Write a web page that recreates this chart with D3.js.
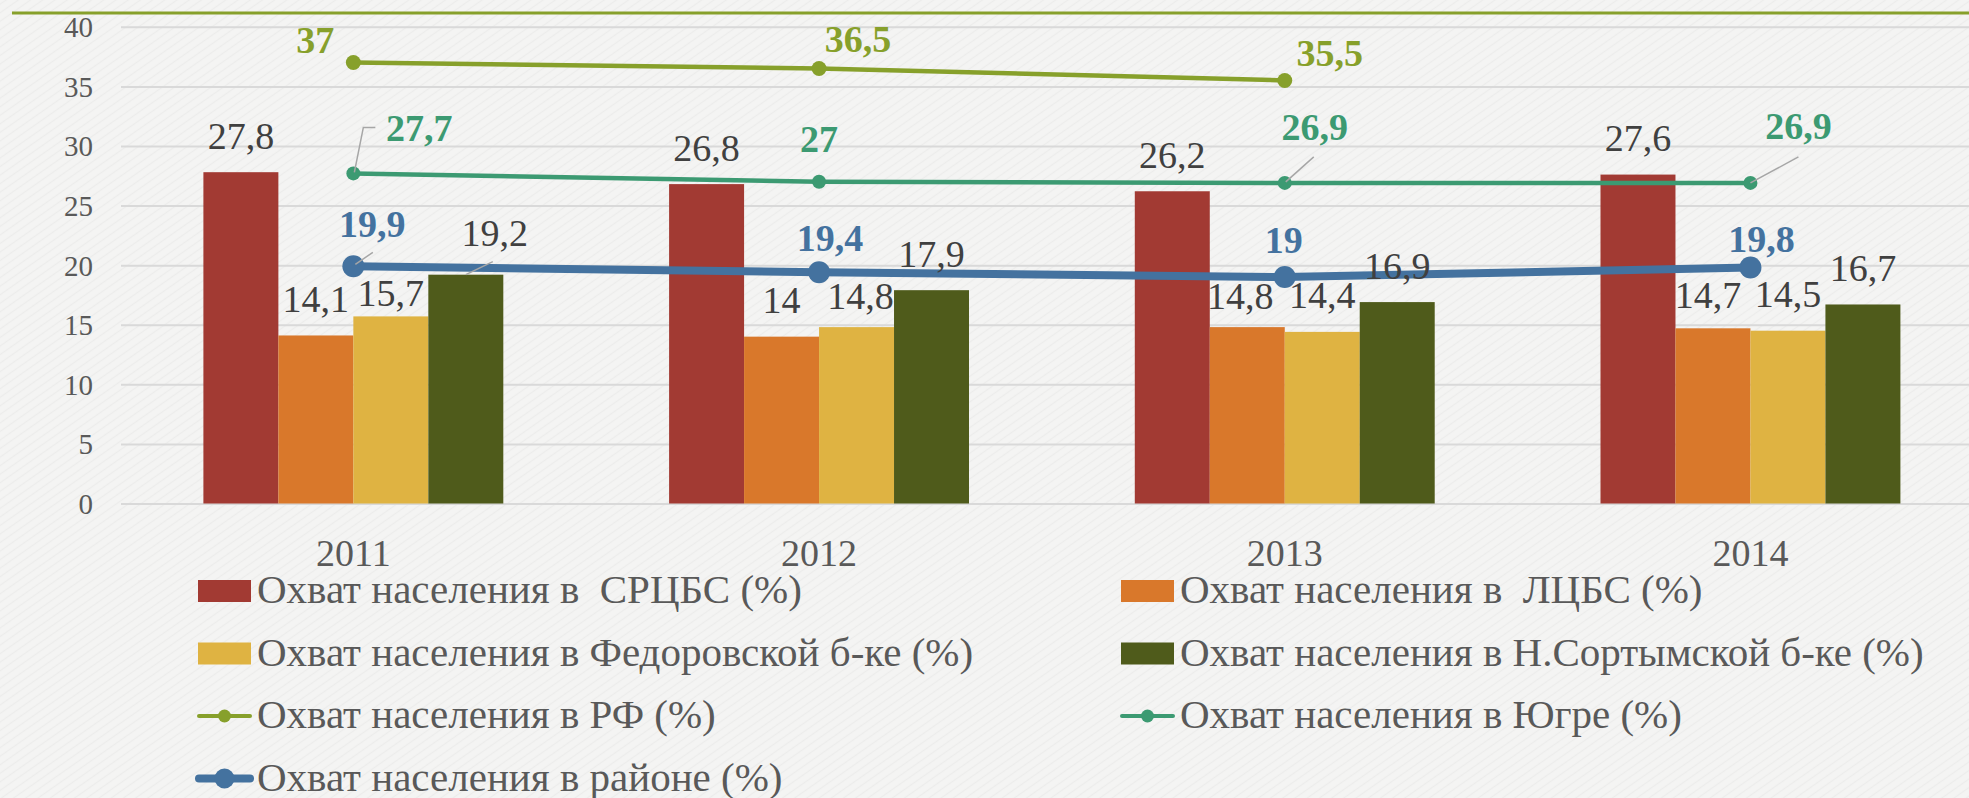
<!DOCTYPE html>
<html>
<head>
<meta charset="utf-8">
<script src="https://cdn.jsdelivr.net/npm/d3@7"></script>
<style>
    html, body { margin: 0; padding: 0; background: #f4f4f3; }
    svg { display: block; }
</style>
</head>
<body>
<div id="chart"></div>
<script>
(function drawCoverage (window, d3) {
    "use strict";

    // ---- data ----
    var years = ["2011", "2012", "2013", "2014"];
    var yTicks = [0, 5, 10, 15, 20, 25, 30, 35, 40];

    var barNames = [
        "Охват населения в  СРЦБС (%)",
        "Охват населения в  ЛЦБС (%)",
        "Охват населения в Федоровской б-ке (%)",
        "Охват населения в Н.Сортымской б-ке (%)"
    ];
    var srcbs = [27.8, 26.8, 26.2, 27.6];
    var lcbs = [14.1, 14, 14.8, 14.7];
    var fedorovsk = [15.7, 14.8, 14.4, 14.5];
    var nsortym = [19.2, 17.9, 16.9, 16.7];

    var lineNames = [
        "Охват населения в РФ (%)",
        "Охват населения в Югре (%)",
        "Охват населения в районе (%)"
    ];
    var rf = [37, 36.5, 35.5, null];
    var yugra = [27.7, 27, 26.9, 26.9];
    var rayon = [19.9, 19.4, 19, 19.8];

    // ---- styles ----
    var width = 1969,
        height = 798,
        FONT = "'Liberation Serif', 'DejaVu Serif', serif",
        barColors = ["#a23a33", "#d9782b", "#dfb342", "#4f5b1b"],
        lineColors = ["#87a02b", "#3c9a72", "#44729f"],
        lineWidths = [4.5, 4.5, 8],
        markerR = [7.5, 7, 11],
        labelGap = 23.5,
        leaderColor = "#a6a6a6";

    // hand-moved labels in the original (dx/dy in px, relative to default spot)
    var barLabelNudge = {
        "2-0": { dx: 0, dy: 13.5 },
        "3-0": { dx: 29, dy: -5.5, leader: [[0, 0], [27, -13]] },
        "2-1": { dx: 4, dy: 5.5 },
        "1-2": { dx: -7, dy: 5.5 },
        "1-3": { dx: -5, dy: 3.5 }
    };
    // line labels: [dx of text centre, dy of baseline] from the marker
    var lineLabelPos = [
        [[-38, -9.5], [39, -17], [45, -14], null],
        [[66, -32], [0, -30], [30, -42.5], [48, -43.5]],
        [[19, -29], [11, -21.5], [-1, -24], [11, -16]]
    ];
    var lineLeaders = [
        [null, null, null, null],
        [[[1, -1], [10, -46], [22, -46]], null, [[1, -1], [29, -26]], [[0, 0], [48, -26]]],
        [[[2, -2], [19.5, -14]], null, null, null]
    ];

    var barData = [srcbs, lcbs, fedorovsk, nsortym],
        lineData = [rf, yugra, rayon];

    function fmt (v) {
        return String(v).replace(".", ",");
    }

    var svg = d3.select("#chart").append("svg")
        .attr("width", width)
        .attr("height", height);

    // faint paper texture
    var pat = svg.append("defs").append("pattern")
        .attr("id", "paper")
        .attr("width", 7).attr("height", 7)
        .attr("patternUnits", "userSpaceOnUse")
        .attr("patternTransform", "rotate(-35)");
    pat.append("rect").attr("width", 7).attr("height", 7).attr("fill", "#f4f4f3");
    pat.append("line")
        .attr("x1", 0).attr("x2", 7).attr("y1", 3.5).attr("y2", 3.5)
        .attr("stroke", "#ececeb").attr("stroke-width", 1.2);

    svg.append("rect")
        .attr("width", width)
        .attr("height", height)
        .attr("fill", "url(#paper)");

    // thin rule across the top
    svg.append("line")
        .attr("x1", 12).attr("x2", width)
        .attr("y1", 13).attr("y2", 13)
        .attr("stroke", "#87a02b")
        .attr("stroke-width", 3);

    var x = d3.scaleBand()
        .domain(years)
        .range([120.5, 1983.3])
        .paddingInner(0.356)
        .paddingOuter(0.178);

    var xSub = d3.scaleBand()
        .domain(d3.range(barData.length))
        .range([0, x.bandwidth()]);

    var y = d3.scaleLinear()
        .domain([0, 40])
        .range([503.5, 26.8]);

    function cx (i) {
        return x(years[i]) + x.bandwidth() / 2;
    }

    // ---- y axis + grid ----
    var yAxis = d3.axisLeft(y)
        .tickValues(yTicks)
        .tickSize(-(width - 121))
        .tickPadding(28);

    var gAxis = svg.append("g")
        .attr("transform", "translate(121,0)")
        .call(yAxis);
    gAxis.select(".domain").remove();
    gAxis.selectAll(".tick line")
        .attr("stroke", "#d9d9d9")
        .attr("stroke-width", 2);
    gAxis.selectAll(".tick text")
        .attr("fill", "#595959")
        .attr("dy", "0.34em")
        .style("font-family", FONT)
        .style("font-size", "29px");

    // ---- x axis labels ----
    var xAxis = d3.axisBottom(x).tickSize(0).tickPadding(0);
    var gx = svg.append("g")
        .attr("transform", "translate(0,565.5)")
        .call(xAxis);
    gx.select(".domain").remove();
    gx.selectAll(".tick text")
        .attr("fill", "#595959")
        .attr("dy", 0)
        .attr("y", 0)
        .style("font-family", FONT)
        .style("font-size", "38px");

    // ---- bars ----
    barData.forEach(function drawSeries (vals, s) {
        svg.append("g").selectAll("rect")
            .data(vals)
            .join("rect")
            .attr("x", function (d, i) { return x(years[i]) + xSub(s); })
            .attr("width", xSub.bandwidth())
            .attr("y", function (d) { return y(d); })
            .attr("height", function (d) { return y(0) - y(d); })
            .attr("fill", barColors[s]);
    });

    // ---- lines ----
    lineData.forEach(function drawLine (vals, s) {
        var pts = vals.map(function (v, i) { return v === null ? null : [cx(i), y(v)]; })
            .filter(function (p) { return p; });
        svg.append("path")
            .attr("d", d3.line()(pts))
            .attr("fill", "none")
            .attr("stroke", lineColors[s])
            .attr("stroke-width", lineWidths[s])
            .attr("stroke-linejoin", "round");
        svg.append("g").selectAll("circle")
            .data(pts)
            .join("circle")
            .attr("cx", function (p) { return p[0]; })
            .attr("cy", function (p) { return p[1]; })
            .attr("r", markerR[s])
            .attr("fill", lineColors[s]);
    });

    function leader (pts) {
        svg.append("polyline")
            .attr("points", pts.join(" "))
            .attr("fill", "none")
            .attr("stroke", leaderColor)
            .attr("stroke-width", 1.5);
    }

    // ---- bar value labels ----
    barData.forEach(function labelSeries (vals, s) {
        vals.forEach(function (v, i) {
            var bx = x(years[i]) + xSub(s) + xSub.bandwidth() / 2,
                by = y(v),
                n = barLabelNudge[s + "-" + i] || { dx: 0, dy: 0 };
            if (n.leader) leader(n.leader.map(function (p) { return [bx + p[0], by + p[1]]; }));
            svg.append("text")
                .attr("x", bx + n.dx)
                .attr("y", by - labelGap + n.dy)
                .attr("text-anchor", "middle")
                .attr("fill", "#404040")
                .style("font-family", FONT)
                .style("font-size", "38px")
                .text(fmt(v));
        });
    });

    // ---- line value labels ----
    lineData.forEach(function labelLine (vals, s) {
        vals.forEach(function (v, i) {
            if (v === null) return;
            var mx = cx(i), my = y(v),
                pos = lineLabelPos[s][i],
                lead = lineLeaders[s][i];
            if (lead) leader(lead.map(function (p) { return [mx + p[0], my + p[1]]; }));
            svg.append("text")
                .attr("x", mx + pos[0])
                .attr("y", my + pos[1])
                .attr("text-anchor", "middle")
                .attr("fill", lineColors[s])
                .style("font-family", FONT)
                .style("font-size", "38px")
                .style("font-weight", "bold")
                .text(fmt(v));
        });
    });

    // ---- legend ----
    var legendItems = barNames.map(function (n, i) { return { name: n, kind: "bar", idx: i }; })
        .concat(lineNames.map(function (n, i) { return { name: n, kind: "line", idx: i }; }));
    var colX = [198, 1121],
        rowY = d3.scalePoint().domain(d3.range(4)).range([591, 778.5]);

    legendItems.forEach(function legendEntry (it, k) {
        var g = svg.append("g")
            .attr("transform", "translate(" + colX[k % 2] + "," + rowY(Math.floor(k / 2)) + ")");
        if (it.kind === "bar") {
            g.append("rect")
                .attr("x", 0).attr("y", -11)
                .attr("width", 53).attr("height", 22)
                .attr("fill", barColors[it.idx]);
        } else {
            g.append("line")
                .attr("x1", 1).attr("x2", 52)
                .attr("y1", 0).attr("y2", 0)
                .attr("stroke", lineColors[it.idx])
                .attr("stroke-linecap", "round")
                .attr("stroke-width", it.idx === 2 ? 8 : 4);
            g.append("circle")
                .attr("cx", 26.5).attr("cy", 0)
                .attr("r", it.idx === 2 ? 10 : 6.5)
                .attr("fill", lineColors[it.idx]);
        }
        g.append("text")
            .attr("x", 59)
            .attr("y", 12)
            .attr("fill", "#595959")
            .attr("xml:space", "preserve")
            .style("white-space", "pre")
            .style("font-family", FONT)
            .style("font-size", "41px")
            .text(it.name);
    });
})(window, window.d3);
</script>
</body>
</html>
